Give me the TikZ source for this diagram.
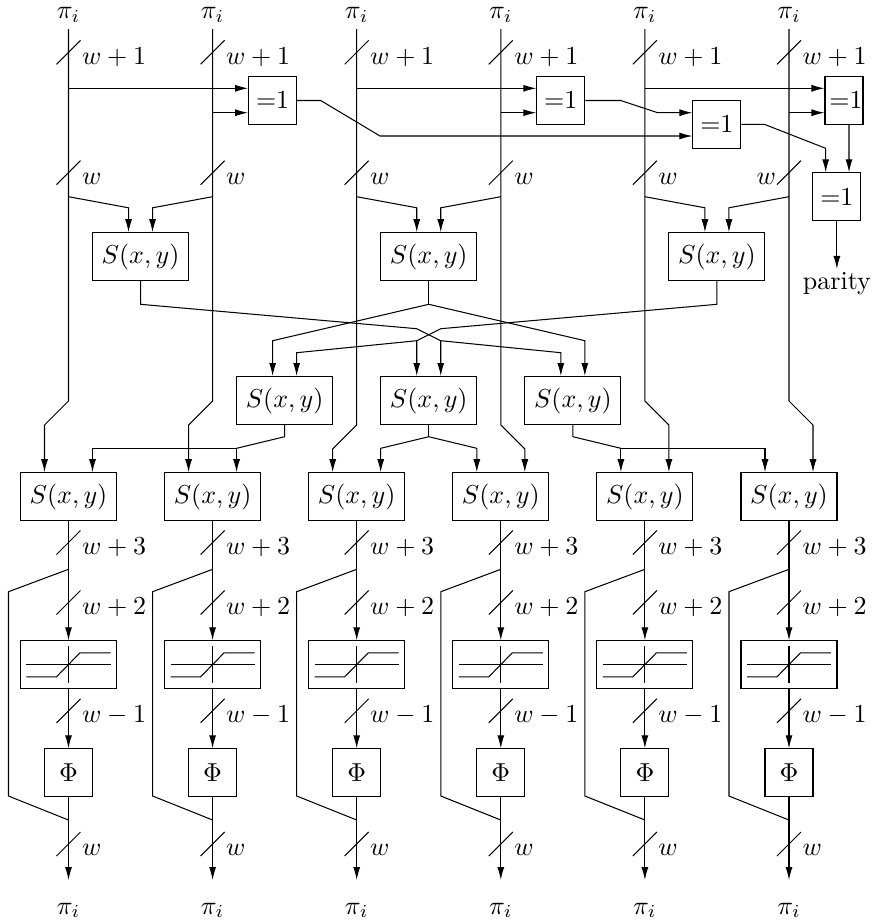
\documentclass[tikz,border=0pt]{standalone}
\usetikzlibrary{arrows.meta,calc}
\begin{document}
\begin{tikzpicture}[x=0.385pt,y=-0.385pt,line width=0.4pt,
  arr/.style={-{Latex[length=5pt,width=2.7pt]}},
  sbox/.style={draw,minimum width=36.96pt,minimum height=18.48pt,inner sep=0pt},
  qbox/.style={draw,minimum width=18.48pt,minimum height=18.48pt,inner sep=0pt},
  lab/.style={inner sep=0pt}]
\useasboundingbox (0,0) rectangle (874,924);

% ---------- columns ----------
\foreach \i/\xx/\d/\ya in {1/68.5/-24/401,2/212.6/-24/401,3/356.7/-24/425,4/500.8/24/425,5/644.9/24/401,6/789/24/401}{
  \node[lab,anchor=base] (pt\i) at (\xx,18.5) {$\pi_i$};
  \node[lab,anchor=base] (pb\i) at (\xx,914) {$\pi_i$};
  \coordinate (top\i) at (\xx,29);
  \node[sbox] (R\i) at (\xx,496.7) {$S(x,y)$};
  \node[sbox] (T\i) at (\xx,664.8) {};
  \node[qbox] (P\i) at (\xx,772.8) {$\Phi$};
  \draw ($(T\i)+(-42,-0.5)$) -- ($(T\i)+(42,-0.5)$);
  \draw ($(T\i)+(0,-18.5)$) -- ($(T\i)+(0,18)$);
  \draw ($(T\i)+(-42,12)$) -- ($(T\i)+(-12,12)$) -- ($(T\i)+(11.5,-12)$) -- ($(T\i)+(42,-12)$);
  \draw[arr] (top\i) -- (\xx,\ya) -- (\xx+\d,\ya+24) -- ($(R\i.north)+(\d,0)$);
  \draw[arr] (R\i.south) -- (T\i.north);
  \draw[arr] (T\i.south) -- (P\i.north);
  \coordinate (end\i) at (\xx,880);
  \draw[arr] (P\i.south) -- (end\i);
  \coordinate (fa\i) at (\xx,569.3);
  \coordinate (fb\i) at (\xx,820);
  \draw (fa\i) -- (\xx-60,591.7) -- (\xx-60,796) -- (fb\i);
  \foreach \yy in {52.3,172.7,542.5,602.5,710.8,844}
    \draw (\xx-12,\yy+12) -- (\xx+12,\yy-12);
  \node[lab,anchor=base west] (la\i) at (\xx+13,64.3) {$w+1$};
  \ifnum\i<6
    \node[lab,anchor=base west] (lb\i) at (\xx+13,184.5) {$w$};
  \else
    \node[lab,anchor=base east] (lb\i) at (\xx-12.5,184.5) {$w$};
  \fi
  \node[lab,anchor=base west] (lc\i) at (\xx+13,554.2) {$w+3$};
  \node[lab,anchor=base west] (ld\i) at (\xx+13,614.2) {$w+2$};
  \node[lab,anchor=base west] (le\i) at (\xx+13,722.5) {$w-1$};
  \node[lab,anchor=base west] (lf\i) at (\xx+13,855.5) {$w$};
}

% ---------- XOR boxes ----------
\node[qbox] (X1) at (272.6,100.5) {${=}1$};
\node[qbox] (X2) at (560.8,100.5) {${=}1$};
\node[qbox] (X3) at (716.9,124.3) {${=}1$};
\node[qbox,minimum width=14.63pt] (X4) at (844,100.4) {};
\node[lab] (X4t) at (846,100.4) {${=}1$};
\node[qbox] (X5) at (836.9,196.8) {${=}1$};
\node[anchor=base,inner sep=0pt] (par) at (836.9,289.5) {parity};

\coordinate (x1a) at (68.5,88.3);
\coordinate (x1b) at (212.6,112.7);
\coordinate (x2a) at (356.7,88.3);
\coordinate (x2b) at (500.8,112.7);
\coordinate (x4a) at (644.9,88.3);
\coordinate (x4b) at (789,112.7);
\draw[arr] (x1a) -- ($(X1.west)+(0,-12.2)$);
\draw[arr] (x1b) -- ($(X1.west)+(0,12.2)$);
\draw[arr] (x2a) -- ($(X2.west)+(0,-12.2)$);
\draw[arr] (x2b) -- ($(X2.west)+(0,12.2)$);
\draw[arr] (x4a) -- ($(X4.west)+(0,-12.1)$);
\draw[arr] (x4b) -- ($(X4.west)+(0,12.3)$);
\draw[arr] (X1.east) -- (320.7,100.5) -- (380,136) -- ($(X3.west)+(0,11.7)$);
\draw[arr] (X2.east) -- (620.7,100.5) -- (657.7,112.7) -- ($(X3.west)+(0,-11.6)$);
\draw[arr] (X3.east) -- (764.3,124.3) -- (825.7,148.3) -- ($(X5.north)+(-11.2,0)$);
\draw[arr] ($(X4.south)+(5,0)$) -- ($(X5.north)+(12.1,0)$);
\draw[arr] (X5.south) -- ($(par.north)+(0,-3)$);

% ---------- S row 1 ----------
\node[sbox] (A) at (140.55,256.7) {$S(x,y)$};
\node[sbox] (B) at (428.75,256.7) {$S(x,y)$};
\node[sbox] (C) at (716.95,256.7) {$S(x,y)$};
\coordinate (j1) at (68.5,196.7);
\coordinate (j2) at (212.6,196.7);
\coordinate (j3) at (356.7,196.7);
\coordinate (j4) at (500.8,196.7);
\coordinate (j5) at (644.9,196.7);
\coordinate (j6) at (789,196.7);
\draw[arr] (j1) -- ($(A.north)+(-12,-24.4)$) -- ($(A.north)+(-12,0)$);
\draw[arr] (j2) -- ($(A.north)+(12,-24.4)$) -- ($(A.north)+(12,0)$);
\draw[arr] (j3) -- ($(B.north)+(-12,-24.4)$) -- ($(B.north)+(-12,0)$);
\draw[arr] (j4) -- ($(B.north)+(12,-24.4)$) -- ($(B.north)+(12,0)$);
\draw[arr] (j5) -- ($(C.north)+(-12,-24.4)$) -- ($(C.north)+(-12,0)$);
\draw[arr] (j6) -- ($(C.north)+(12,-24.4)$) -- ($(C.north)+(12,0)$);

% ---------- S row 2 ----------
\node[sbox] (D) at (284.65,400.5) {$S(x,y)$};
\node[sbox] (E) at (428.75,400.5) {$S(x,y)$};
\node[sbox] (F) at (572.85,400.5) {$S(x,y)$};
\coordinate (bB) at (428.75,304.3);
\coordinate (xa) at (440.75,340.7);
\coordinate (xc) at (416.75,340.7);
\draw (B.south) -- (bB);
\draw[arr] (bB) -- (272.65,340.7) -- ($(D.north)+(-12,0)$);
\draw[arr] (bB) -- (584.85,340.7) -- ($(F.north)+(12,0)$);
\draw[arr] (A.south) -- (140.55,304.3) -- (416.75,328.7) -- (xa) -- ($(E.north)+(12,0)$);
\draw[arr] (xa) -- (560.85,352.7) -- ($(F.north)+(-12,0)$);
\draw[arr] (C.south) -- (716.95,304.3) -- (440.75,328.7) -- (xc) -- ($(E.north)+(-12,0)$);
\draw[arr] (xc) -- (296.65,352.7) -- ($(D.north)+(12,0)$);

% ---------- row 2 outputs ----------
\coordinate (dD) at (236.6,448.3);
\coordinate (dE) at (428.75,436.7);
\coordinate (dF) at (620.9,448.3);
\draw (D.south) -- (284.65,436.7) -- (dD);
\draw[arr] (dD) -- ($(R2.north)+(24,0)$);
\draw[arr] (dD) -- (92.5,448.3) -- ($(R1.north)+(24,0)$);
\draw (E.south) -- (dE);
\draw[arr] (dE) -- (380.7,448.3) -- ($(R3.north)+(24,0)$);
\draw[arr] (dE) -- (476.8,448.3) -- ($(R4.north)+(-24,0)$);
\draw (F.south) -- (572.85,436.7) -- (dF);
\draw[arr] (dF) -- ($(R5.north)+(-24,0)$);
\draw[arr] (dF) -- (765,448.3) -- ($(R6.north)+(-24,0)$);
\end{tikzpicture}
\end{document}
